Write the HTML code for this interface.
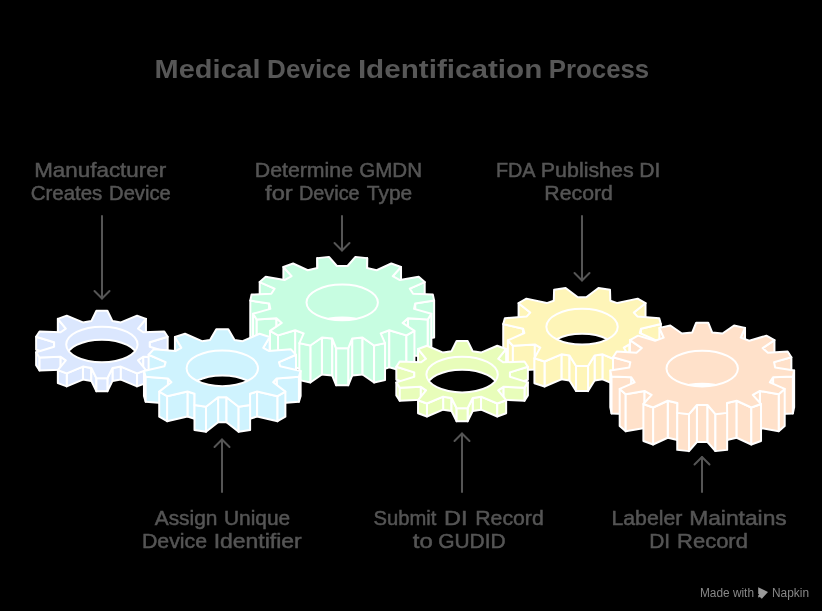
<!DOCTYPE html>
<html><head><meta charset="utf-8"><style>
html,body{margin:0;padding:0;background:#000;width:822px;height:611px;overflow:hidden;font-family:"Liberation Sans",sans-serif}
text{will-change:transform}
</style></head><body>
<svg width="822" height="611" viewBox="0 0 822 611" style="position:absolute;left:0;top:0">
<rect width="822" height="611" fill="#000"/>
<text x="207.6" y="78" text-anchor="middle" font-family="Liberation Sans" font-weight="bold" font-size="25" fill="#575757" textLength="106.1" lengthAdjust="spacingAndGlyphs">Medical</text>
<text x="309.1" y="78" text-anchor="middle" font-family="Liberation Sans" font-weight="bold" font-size="25" fill="#575757" textLength="84.0" lengthAdjust="spacingAndGlyphs">Device</text>
<text x="450.1" y="78" text-anchor="middle" font-family="Liberation Sans" font-weight="bold" font-size="25" fill="#575757" textLength="184.4" lengthAdjust="spacingAndGlyphs">Identification</text>
<text x="599.0" y="78" text-anchor="middle" font-family="Liberation Sans" font-weight="bold" font-size="25" fill="#575757" textLength="100.4" lengthAdjust="spacingAndGlyphs">Process</text>
<text x="100.2" y="176.5" text-anchor="middle" font-family="Liberation Sans" font-size="20.5" fill="#555555" stroke="#555" stroke-width="0.5" textLength="132.0" lengthAdjust="spacingAndGlyphs">Manufacturer</text>
<text x="66.5" y="200.3" text-anchor="middle" font-family="Liberation Sans" font-size="20.5" fill="#555555" stroke="#555" stroke-width="0.5" textLength="71.7" lengthAdjust="spacingAndGlyphs">Creates</text>
<text x="139.9" y="200.3" text-anchor="middle" font-family="Liberation Sans" font-size="20.5" fill="#555555" stroke="#555" stroke-width="0.5" textLength="61.6" lengthAdjust="spacingAndGlyphs">Device</text>
<text x="303.9" y="176.5" text-anchor="middle" font-family="Liberation Sans" font-size="20.5" fill="#555555" stroke="#555" stroke-width="0.5" textLength="98.3" lengthAdjust="spacingAndGlyphs">Determine</text>
<text x="390.6" y="176.5" text-anchor="middle" font-family="Liberation Sans" font-size="20.5" fill="#555555" stroke="#555" stroke-width="0.5" textLength="62.8" lengthAdjust="spacingAndGlyphs">GMDN</text>
<text x="278.9" y="200.3" text-anchor="middle" font-family="Liberation Sans" font-size="20.5" fill="#555555" stroke="#555" stroke-width="0.5" textLength="27.7" lengthAdjust="spacingAndGlyphs">for</text>
<text x="329.3" y="200.3" text-anchor="middle" font-family="Liberation Sans" font-size="20.5" fill="#555555" stroke="#555" stroke-width="0.5" textLength="60.7" lengthAdjust="spacingAndGlyphs">Device</text>
<text x="389.5" y="200.3" text-anchor="middle" font-family="Liberation Sans" font-size="20.5" fill="#555555" stroke="#555" stroke-width="0.5" textLength="45.3" lengthAdjust="spacingAndGlyphs">Type</text>
<text x="515.7" y="176.5" text-anchor="middle" font-family="Liberation Sans" font-size="20.5" fill="#555555" stroke="#555" stroke-width="0.5" textLength="39.6" lengthAdjust="spacingAndGlyphs">FDA</text>
<text x="587.2" y="176.5" text-anchor="middle" font-family="Liberation Sans" font-size="20.5" fill="#555555" stroke="#555" stroke-width="0.5" textLength="92.8" lengthAdjust="spacingAndGlyphs">Publishes</text>
<text x="649.7" y="176.5" text-anchor="middle" font-family="Liberation Sans" font-size="20.5" fill="#555555" stroke="#555" stroke-width="0.5" textLength="21.1" lengthAdjust="spacingAndGlyphs">DI</text>
<text x="578.6" y="200.3" text-anchor="middle" font-family="Liberation Sans" font-size="20.5" fill="#555555" stroke="#555" stroke-width="0.5" textLength="68.5" lengthAdjust="spacingAndGlyphs">Record</text>
<text x="186.1" y="524.6" text-anchor="middle" font-family="Liberation Sans" font-size="20.5" fill="#555555" stroke="#555" stroke-width="0.5" textLength="62.8" lengthAdjust="spacingAndGlyphs">Assign</text>
<text x="257.1" y="524.6" text-anchor="middle" font-family="Liberation Sans" font-size="20.5" fill="#555555" stroke="#555" stroke-width="0.5" textLength="66.2" lengthAdjust="spacingAndGlyphs">Unique</text>
<text x="174.5" y="548.3" text-anchor="middle" font-family="Liberation Sans" font-size="20.5" fill="#555555" stroke="#555" stroke-width="0.5" textLength="65.1" lengthAdjust="spacingAndGlyphs">Device</text>
<text x="257.7" y="548.3" text-anchor="middle" font-family="Liberation Sans" font-size="20.5" fill="#555555" stroke="#555" stroke-width="0.5" textLength="88.1" lengthAdjust="spacingAndGlyphs">Identifier</text>
<text x="404.9" y="524.6" text-anchor="middle" font-family="Liberation Sans" font-size="20.5" fill="#555555" stroke="#555" stroke-width="0.5" textLength="62.8" lengthAdjust="spacingAndGlyphs">Submit</text>
<text x="455.7" y="524.6" text-anchor="middle" font-family="Liberation Sans" font-size="20.5" fill="#555555" stroke="#555" stroke-width="0.5" textLength="23.5" lengthAdjust="spacingAndGlyphs">DI</text>
<text x="509.5" y="524.6" text-anchor="middle" font-family="Liberation Sans" font-size="20.5" fill="#555555" stroke="#555" stroke-width="0.5" textLength="68.5" lengthAdjust="spacingAndGlyphs">Record</text>
<text x="422.8" y="548.3" text-anchor="middle" font-family="Liberation Sans" font-size="20.5" fill="#555555" stroke="#555" stroke-width="0.5" textLength="20.0" lengthAdjust="spacingAndGlyphs">to</text>
<text x="471.9" y="548.3" text-anchor="middle" font-family="Liberation Sans" font-size="20.5" fill="#555555" stroke="#555" stroke-width="0.5" textLength="67.4" lengthAdjust="spacingAndGlyphs">GUDID</text>
<text x="646.9" y="524.6" text-anchor="middle" font-family="Liberation Sans" font-size="20.5" fill="#555555" stroke="#555" stroke-width="0.5" textLength="70.8" lengthAdjust="spacingAndGlyphs">Labeler</text>
<text x="738.0" y="524.6" text-anchor="middle" font-family="Liberation Sans" font-size="20.5" fill="#555555" stroke="#555" stroke-width="0.5" textLength="97.6" lengthAdjust="spacingAndGlyphs">Maintains</text>
<text x="659.6" y="548.3" text-anchor="middle" font-family="Liberation Sans" font-size="20.5" fill="#555555" stroke="#555" stroke-width="0.5" textLength="20.9" lengthAdjust="spacingAndGlyphs">DI</text>
<text x="712.5" y="548.3" text-anchor="middle" font-family="Liberation Sans" font-size="20.5" fill="#555555" stroke="#555" stroke-width="0.5" textLength="70.8" lengthAdjust="spacingAndGlyphs">Record</text>
<g stroke="#555555" stroke-width="2" stroke-linecap="round" stroke-linejoin="round">
<line x1="102" y1="216" x2="102" y2="298.5"/><polyline points="94.5,291.0 102,298.5 109.5,291.0" fill="none"/>
<line x1="342" y1="216" x2="342" y2="250.5"/><polyline points="334.5,243.0 342,250.5 349.5,243.0" fill="none"/>
<line x1="582" y1="216" x2="582" y2="280.5"/><polyline points="574.5,273.0 582,280.5 589.5,273.0" fill="none"/>
<line x1="222" y1="439.5" x2="222" y2="492"/><polyline points="214.5,447.0 222,439.5 229.5,447.0" fill="none"/>
<line x1="462" y1="433.5" x2="462" y2="492"/><polyline points="454.5,441.0 462,433.5 469.5,441.0" fill="none"/>
<line x1="702" y1="457" x2="702" y2="492"/><polyline points="694.5,464.5 702,457 709.5,464.5" fill="none"/>
</g>
<g fill="#c7fde1" stroke="#fff" stroke-width="2.00" stroke-linejoin="round">
<polygon points="317.24,258.12 317.43,268.07 317.43,305.07 317.24,295.12"/>
<polygon points="366.97,268.07 367.16,258.12 367.16,295.12 366.97,305.07"/>
<polygon points="283.38,267.03 291.64,276.07 291.64,313.07 283.38,304.03"/>
<polygon points="392.76,276.07 401.02,267.03 401.02,304.03 392.76,313.07"/>
<polygon points="259.70,282.05 274.59,288.63 274.59,325.63 259.70,319.05"/>
<polygon points="409.81,288.63 424.70,282.05 424.70,319.05 409.81,325.63"/>
<polygon points="415.16,303.57 434.13,300.59 434.13,337.59 415.16,340.57"/>
<polygon points="250.27,300.59 269.24,303.57 269.24,340.57 250.27,337.59"/>
<polygon points="414.05,308.84 415.16,303.57 415.16,340.57 414.05,345.84"/>
<polygon points="269.24,303.57 270.35,308.84 270.35,345.84 269.24,340.57"/>
<polygon points="253.03,313.73 256.74,319.44 256.74,356.44 253.03,350.73"/>
<polygon points="427.66,319.44 431.37,313.73 431.37,350.73 427.66,356.44"/>
<polygon points="256.74,319.44 276.50,318.31 276.50,355.31 256.74,356.44"/>
<polygon points="407.90,318.31 427.66,319.44 427.66,356.44 407.90,355.31"/>
<polygon points="276.50,318.31 281.80,322.90 281.80,359.90 276.50,355.31"/>
<polygon points="402.60,322.90 407.90,318.31 407.90,355.31 402.60,359.90"/>
<polygon points="295.12,330.29 303.69,333.41 303.69,370.41 295.12,367.29"/>
<polygon points="380.71,333.41 389.28,330.29 389.28,367.29 380.71,370.41"/>
<polygon points="277.99,335.34 295.12,330.29 295.12,367.29 277.99,372.34"/>
<polygon points="389.28,330.29 406.41,335.34 406.41,372.34 389.28,367.29"/>
<polygon points="269.96,330.89 277.99,335.34 277.99,372.34 269.96,367.89"/>
<polygon points="406.41,335.34 414.44,330.89 414.44,367.89 406.41,372.34"/>
<polygon points="352.15,338.56 362.52,337.46 362.52,374.46 352.15,375.56"/>
<polygon points="321.88,337.46 332.25,338.56 332.25,375.56 321.88,374.46"/>
<polygon points="362.52,337.46 374.06,345.55 374.06,382.55 362.52,374.46"/>
<polygon points="310.34,345.55 321.88,337.46 321.88,374.46 310.34,382.55"/>
<polygon points="332.25,338.56 336.20,348.30 336.20,385.30 332.25,375.56"/>
<polygon points="348.20,348.30 352.15,338.56 352.15,375.56 348.20,385.30"/>
<polygon points="299.38,343.11 310.34,345.55 310.34,382.55 299.38,380.11"/>
<polygon points="374.06,345.55 385.02,343.11 385.02,380.11 374.06,382.55"/>
<polygon points="336.20,348.30 348.20,348.30 348.20,385.30 336.20,385.30"/>
<polygon points="332.25,338.56 336.20,348.30 348.20,348.30 352.15,338.56 362.52,337.46 374.06,345.55 385.02,343.11 380.71,333.41 389.28,330.29 406.41,335.34 414.44,330.89 402.60,322.90 407.90,318.31 427.66,319.44 431.37,313.73 414.05,308.84 415.16,303.57 434.13,300.59 432.87,294.62 413.08,293.67 409.81,288.63 424.70,282.05 418.70,276.85 399.85,280.01 392.76,276.07 401.02,267.03 391.31,263.50 376.66,270.22 366.97,268.07 367.16,258.12 355.42,256.88 347.50,266.00 336.90,266.00 328.98,256.88 317.24,258.12 317.43,268.07 307.74,270.22 293.09,263.50 283.38,267.03 291.64,276.07 284.55,280.01 265.70,276.85 259.70,282.05 274.59,288.63 271.32,293.67 251.53,294.62 250.27,300.59 269.24,303.57 270.35,308.84 253.03,313.73 256.74,319.44 276.50,318.31 281.80,322.90 269.96,330.89 277.99,335.34 295.12,330.29 303.69,333.41 299.38,343.11 310.34,345.55 321.88,337.46"/>
<clipPath id="c342"><ellipse cx="342.20" cy="302.40" rx="35.70" ry="17.85"/></clipPath>
<ellipse cx="342.20" cy="335.40" rx="35.70" ry="17.85" fill="#fff" clip-path="url(#c342)"/>
<ellipse cx="342.20" cy="302.40" rx="35.70" ry="17.85" fill="none"/>
</g>
<g fill="#fef5b8" stroke="#fff" stroke-width="2.00" stroke-linejoin="round">
<polygon points="518.59,303.17 530.26,312.57 530.26,337.57 518.59,328.17"/>
<polygon points="633.84,312.57 645.51,303.17 645.51,328.17 633.84,337.57"/>
<polygon points="503.23,324.06 523.20,328.81 523.20,353.81 503.23,349.06"/>
<polygon points="640.90,328.81 660.87,324.06 660.87,349.06 640.90,353.81"/>
<polygon points="523.20,328.81 524.40,332.97 524.40,357.97 523.20,353.81"/>
<polygon points="639.70,332.97 640.90,328.81 640.90,353.81 639.70,357.97"/>
<polygon points="507.90,340.33 512.89,345.79 512.89,370.79 507.90,365.33"/>
<polygon points="651.21,345.79 656.20,340.33 656.20,365.33 651.21,370.79"/>
<polygon points="512.89,345.79 534.82,344.38 534.82,369.38 512.89,370.79"/>
<polygon points="629.28,344.38 651.21,345.79 651.21,370.79 629.28,369.38"/>
<polygon points="534.82,344.38 540.32,347.56 540.32,372.56 534.82,369.38"/>
<polygon points="623.78,347.56 629.28,344.38 629.28,369.38 623.78,372.56"/>
<polygon points="561.44,354.34 569.50,355.52 569.50,380.52 561.44,379.34"/>
<polygon points="594.60,355.52 602.66,354.34 602.66,379.34 594.60,380.52"/>
<polygon points="602.66,354.34 619.59,361.46 619.59,386.46 602.66,379.34"/>
<polygon points="544.51,361.46 561.44,354.34 561.44,379.34 544.51,386.46"/>
<polygon points="619.59,361.46 629.68,358.21 629.68,383.21 619.59,386.46"/>
<polygon points="534.42,358.21 544.51,361.46 544.51,386.46 534.42,383.21"/>
<polygon points="569.50,355.52 576.05,366.09 576.05,391.09 569.50,380.52"/>
<polygon points="588.05,366.09 594.60,355.52 594.60,380.52 588.05,391.09"/>
<polygon points="576.05,366.09 588.05,366.09 588.05,391.09 576.05,391.09"/>
<polygon points="569.50,355.52 576.05,366.09 588.05,366.09 594.60,355.52 602.66,354.34 619.59,361.46 629.68,358.21 623.78,347.56 629.28,344.38 651.21,345.79 656.20,340.33 639.70,332.97 640.90,328.81 660.87,324.06 659.17,318.13 637.33,316.39 633.84,312.57 645.51,303.17 637.65,298.64 617.40,303.08 610.33,300.81 610.00,289.75 598.49,288.06 586.25,297.27 577.85,297.27 565.61,288.06 554.10,289.75 553.77,300.81 546.70,303.08 526.45,298.64 518.59,303.17 530.26,312.57 526.77,316.39 504.93,318.13 503.23,324.06 523.20,328.81 524.40,332.97 507.90,340.33 512.89,345.79 534.82,344.38 540.32,347.56 534.42,358.21 544.51,361.46 561.44,354.34"/>
<clipPath id="c582"><ellipse cx="582.05" cy="326.70" rx="35.70" ry="17.85"/></clipPath>
<ellipse cx="582.05" cy="351.70" rx="35.70" ry="17.85" fill="#000" clip-path="url(#c582)"/>
<ellipse cx="582.05" cy="326.70" rx="35.70" ry="17.85" fill="none"/>
</g>
<g fill="#dbe7fe" stroke="#fff" stroke-width="2.00" stroke-linejoin="round">
<polygon points="57.85,318.86 65.82,328.67 65.82,341.67 57.85,331.86"/>
<polygon points="137.98,328.67 145.95,318.86 145.95,331.86 137.98,341.67"/>
<polygon points="149.70,342.30 167.68,336.71 167.68,349.71 149.70,355.30"/>
<polygon points="36.12,336.71 54.10,342.30 54.10,355.30 36.12,349.71"/>
<polygon points="36.12,352.29 39.52,357.53 39.52,370.53 36.12,365.29"/>
<polygon points="164.28,357.53 167.68,352.29 167.68,365.29 164.28,370.53"/>
<polygon points="143.16,356.77 164.28,357.53 164.28,370.53 143.16,369.77"/>
<polygon points="39.52,357.53 60.64,356.77 60.64,369.77 39.52,370.53"/>
<polygon points="137.98,360.33 143.16,356.77 143.16,369.77 137.98,373.33"/>
<polygon points="60.64,356.77 65.82,360.33 65.82,373.33 60.64,369.77"/>
<polygon points="112.49,367.91 120.86,366.55 120.86,379.55 112.49,380.91"/>
<polygon points="82.94,366.55 91.31,367.91 91.31,380.91 82.94,379.55"/>
<polygon points="120.86,366.55 137.05,373.37 137.05,386.37 120.86,379.55"/>
<polygon points="66.75,373.37 82.94,366.55 82.94,379.55 66.75,386.37"/>
<polygon points="57.85,370.14 66.75,373.37 66.75,386.37 57.85,383.14"/>
<polygon points="137.05,373.37 145.95,370.14 145.95,383.14 137.05,386.37"/>
<polygon points="91.31,367.91 96.40,378.19 96.40,391.19 91.31,380.91"/>
<polygon points="107.40,378.19 112.49,367.91 112.49,380.91 107.40,391.19"/>
<polygon points="96.40,378.19 107.40,378.19 107.40,391.19 96.40,391.19"/>
<polygon points="112.49,321.09 107.40,310.81 96.40,310.81 91.31,321.09 82.94,322.45 66.75,315.63 57.85,318.86 65.82,328.67 60.64,332.23 39.52,331.47 36.12,336.71 54.10,342.30 54.10,346.70 36.12,352.29 39.52,357.53 60.64,356.77 65.82,360.33 57.85,370.14 66.75,373.37 82.94,366.55 91.31,367.91 96.40,378.19 107.40,378.19 112.49,367.91 120.86,366.55 137.05,373.37 145.95,370.14 137.98,360.33 143.16,356.77 164.28,357.53 167.68,352.29 149.70,346.70 149.70,342.30 167.68,336.71 164.28,331.47 143.16,332.23 137.98,328.67 145.95,318.86 137.05,315.63 120.86,322.45"/>
<clipPath id="c101"><ellipse cx="101.90" cy="344.50" rx="35.70" ry="17.85"/></clipPath>
<ellipse cx="101.90" cy="357.50" rx="35.70" ry="17.85" fill="#000" clip-path="url(#c101)"/>
<ellipse cx="101.90" cy="344.50" rx="35.70" ry="17.85" fill="none"/>
</g>
<g fill="#cff3fe" stroke="#fff" stroke-width="2.00" stroke-linejoin="round">
<polygon points="174.94,337.00 181.33,347.77 181.33,372.77 174.94,362.00"/>
<polygon points="263.27,347.77 269.66,337.00 269.66,362.00 263.27,372.77"/>
<polygon points="148.61,354.77 165.64,362.11 165.64,387.11 148.61,379.77"/>
<polygon points="278.96,362.11 295.99,354.77 295.99,379.77 278.96,387.11"/>
<polygon points="143.97,370.90 145.68,376.84 145.68,401.84 143.97,395.90"/>
<polygon points="298.92,376.84 300.63,370.90 300.63,395.90 298.92,401.84"/>
<polygon points="145.68,376.84 167.94,378.41 167.94,403.41 145.68,401.84"/>
<polygon points="276.66,378.41 298.92,376.84 298.92,401.84 276.66,403.41"/>
<polygon points="167.94,378.41 171.42,382.23 171.42,407.23 167.94,403.41"/>
<polygon points="273.18,382.23 276.66,378.41 276.66,403.41 273.18,407.23"/>
<polygon points="187.49,391.50 194.56,393.77 194.56,418.77 187.49,416.50"/>
<polygon points="250.04,393.77 257.11,391.50 257.11,416.50 250.04,418.77"/>
<polygon points="167.08,396.20 187.49,391.50 187.49,416.50 167.08,421.20"/>
<polygon points="257.11,391.50 277.52,396.20 277.52,421.20 257.11,416.50"/>
<polygon points="277.52,396.20 285.38,391.66 285.38,416.66 277.52,421.20"/>
<polygon points="159.22,391.66 167.08,396.20 167.08,421.20 159.22,416.66"/>
<polygon points="218.10,397.22 226.50,397.22 226.50,422.22 218.10,422.22"/>
<polygon points="206.01,406.70 218.10,397.22 218.10,422.22 206.01,431.70"/>
<polygon points="226.50,397.22 238.59,406.70 238.59,431.70 226.50,422.22"/>
<polygon points="194.49,405.00 206.01,406.70 206.01,431.70 194.49,430.00"/>
<polygon points="238.59,406.70 250.11,405.00 250.11,430.00 238.59,431.70"/>
<polygon points="234.57,339.96 228.30,329.16 216.30,329.16 210.03,339.96 201.97,341.14 185.03,333.76 174.94,337.00 181.33,347.77 175.83,350.95 153.60,349.31 148.61,354.77 165.64,362.11 164.44,366.26 143.97,370.90 145.68,376.84 167.94,378.41 171.42,382.23 159.22,391.66 167.08,396.20 187.49,391.50 194.56,393.77 194.49,405.00 206.01,406.70 218.10,397.22 226.50,397.22 238.59,406.70 250.11,405.00 250.04,393.77 257.11,391.50 277.52,396.20 285.38,391.66 273.18,382.23 276.66,378.41 298.92,376.84 300.63,370.90 280.16,366.26 278.96,362.11 295.99,354.77 291.00,349.31 268.77,350.95 263.27,347.77 269.66,337.00 259.57,333.76 242.63,341.14"/>
<clipPath id="c222"><ellipse cx="222.30" cy="368.30" rx="35.70" ry="17.85"/></clipPath>
<ellipse cx="222.30" cy="393.30" rx="35.70" ry="17.85" fill="#000" clip-path="url(#c222)"/>
<ellipse cx="222.30" cy="368.30" rx="35.70" ry="17.85" fill="none"/>
</g>
<g fill="#ffe1ca" stroke="#fff" stroke-width="2.00" stroke-linejoin="round">
<polygon points="659.38,327.89 663.69,337.59 663.69,374.59 659.38,364.89"/>
<polygon points="740.71,337.59 745.02,327.89 745.02,364.89 740.71,374.59"/>
<polygon points="762.60,348.10 774.44,340.11 774.44,377.11 762.60,385.10"/>
<polygon points="629.96,340.11 641.80,348.10 641.80,385.10 629.96,377.11"/>
<polygon points="774.05,362.16 791.37,357.27 791.37,394.27 774.05,399.16"/>
<polygon points="613.03,357.27 630.35,362.16 630.35,399.16 613.03,394.27"/>
<polygon points="610.27,370.41 611.53,376.38 611.53,413.38 610.27,407.41"/>
<polygon points="792.87,376.38 794.13,370.41 794.13,407.41 792.87,413.38"/>
<polygon points="773.08,377.33 792.87,376.38 792.87,413.38 773.08,414.33"/>
<polygon points="611.53,376.38 631.32,377.33 631.32,414.33 611.53,413.38"/>
<polygon points="631.32,377.33 634.59,382.37 634.59,419.37 631.32,414.33"/>
<polygon points="769.81,382.37 773.08,377.33 773.08,414.33 769.81,419.37"/>
<polygon points="619.70,388.95 625.70,394.15 625.70,431.15 619.70,425.95"/>
<polygon points="778.70,394.15 784.70,388.95 784.70,425.95 778.70,431.15"/>
<polygon points="759.85,390.99 778.70,394.15 778.70,431.15 759.85,427.99"/>
<polygon points="625.70,394.15 644.55,390.99 644.55,427.99 625.70,431.15"/>
<polygon points="752.76,394.93 759.85,390.99 759.85,427.99 752.76,431.93"/>
<polygon points="644.55,390.99 651.64,394.93 651.64,431.93 644.55,427.99"/>
<polygon points="667.74,400.78 677.43,402.93 677.43,439.93 667.74,437.78"/>
<polygon points="726.97,402.93 736.66,400.78 736.66,437.78 726.97,439.93"/>
<polygon points="736.66,400.78 751.31,407.50 751.31,444.50 736.66,437.78"/>
<polygon points="653.09,407.50 667.74,400.78 667.74,437.78 653.09,444.50"/>
<polygon points="696.90,405.00 707.50,405.00 707.50,442.00 696.90,442.00"/>
<polygon points="643.38,403.97 653.09,407.50 653.09,444.50 643.38,440.97"/>
<polygon points="751.31,407.50 761.02,403.97 761.02,440.97 751.31,444.50"/>
<polygon points="688.98,414.12 696.90,405.00 696.90,442.00 688.98,451.12"/>
<polygon points="707.50,405.00 715.42,414.12 715.42,451.12 707.50,442.00"/>
<polygon points="677.24,412.88 688.98,414.12 688.98,451.12 677.24,449.88"/>
<polygon points="715.42,414.12 727.16,412.88 727.16,449.88 715.42,451.12"/>
<polygon points="712.15,332.44 708.20,322.70 696.20,322.70 692.25,332.44 681.88,333.54 670.34,325.45 659.38,327.89 663.69,337.59 655.12,340.71 637.99,335.66 629.96,340.11 641.80,348.10 636.50,352.69 616.74,351.56 613.03,357.27 630.35,362.16 629.24,367.43 610.27,370.41 611.53,376.38 631.32,377.33 634.59,382.37 619.70,388.95 625.70,394.15 644.55,390.99 651.64,394.93 643.38,403.97 653.09,407.50 667.74,400.78 677.43,402.93 677.24,412.88 688.98,414.12 696.90,405.00 707.50,405.00 715.42,414.12 727.16,412.88 726.97,402.93 736.66,400.78 751.31,407.50 761.02,403.97 752.76,394.93 759.85,390.99 778.70,394.15 784.70,388.95 769.81,382.37 773.08,377.33 792.87,376.38 794.13,370.41 775.16,367.43 774.05,362.16 791.37,357.27 787.66,351.56 767.90,352.69 762.60,348.10 774.44,340.11 766.41,335.66 749.28,340.71 740.71,337.59 745.02,327.89 734.06,325.45 722.52,333.54"/>
<clipPath id="c702"><ellipse cx="702.20" cy="368.60" rx="35.70" ry="17.85"/></clipPath>
<ellipse cx="702.20" cy="401.60" rx="35.70" ry="17.85" fill="#fff" clip-path="url(#c702)"/>
<ellipse cx="702.20" cy="368.60" rx="35.70" ry="17.85" fill="none"/>
</g>
<g fill="#e8fdba" stroke="#fff" stroke-width="2.00" stroke-linejoin="round">
<polygon points="418.05,348.96 426.02,358.77 426.02,371.77 418.05,361.96"/>
<polygon points="498.18,358.77 506.15,348.96 506.15,361.96 498.18,371.77"/>
<polygon points="509.90,372.40 527.88,366.81 527.88,379.81 509.90,385.40"/>
<polygon points="396.32,366.81 414.30,372.40 414.30,385.40 396.32,379.81"/>
<polygon points="396.32,382.39 399.72,387.63 399.72,400.63 396.32,395.39"/>
<polygon points="524.48,387.63 527.88,382.39 527.88,395.39 524.48,400.63"/>
<polygon points="503.36,386.87 524.48,387.63 524.48,400.63 503.36,399.87"/>
<polygon points="399.72,387.63 420.84,386.87 420.84,399.87 399.72,400.63"/>
<polygon points="498.18,390.43 503.36,386.87 503.36,399.87 498.18,403.43"/>
<polygon points="420.84,386.87 426.02,390.43 426.02,403.43 420.84,399.87"/>
<polygon points="472.69,398.01 481.06,396.65 481.06,409.65 472.69,411.01"/>
<polygon points="443.14,396.65 451.51,398.01 451.51,411.01 443.14,409.65"/>
<polygon points="481.06,396.65 497.25,403.47 497.25,416.47 481.06,409.65"/>
<polygon points="426.95,403.47 443.14,396.65 443.14,409.65 426.95,416.47"/>
<polygon points="418.05,400.24 426.95,403.47 426.95,416.47 418.05,413.24"/>
<polygon points="497.25,403.47 506.15,400.24 506.15,413.24 497.25,416.47"/>
<polygon points="451.51,398.01 456.60,408.29 456.60,421.29 451.51,411.01"/>
<polygon points="467.60,408.29 472.69,398.01 472.69,411.01 467.60,421.29"/>
<polygon points="456.60,408.29 467.60,408.29 467.60,421.29 456.60,421.29"/>
<polygon points="472.69,351.19 467.60,340.91 456.60,340.91 451.51,351.19 443.14,352.55 426.95,345.73 418.05,348.96 426.02,358.77 420.84,362.33 399.72,361.57 396.32,366.81 414.30,372.40 414.30,376.80 396.32,382.39 399.72,387.63 420.84,386.87 426.02,390.43 418.05,400.24 426.95,403.47 443.14,396.65 451.51,398.01 456.60,408.29 467.60,408.29 472.69,398.01 481.06,396.65 497.25,403.47 506.15,400.24 498.18,390.43 503.36,386.87 524.48,387.63 527.88,382.39 509.90,376.80 509.90,372.40 527.88,366.81 524.48,361.57 503.36,362.33 498.18,358.77 506.15,348.96 497.25,345.73 481.06,352.55"/>
<clipPath id="c462"><ellipse cx="462.10" cy="374.60" rx="35.70" ry="17.85"/></clipPath>
<ellipse cx="462.10" cy="387.60" rx="35.70" ry="17.85" fill="#000" clip-path="url(#c462)"/>
<ellipse cx="462.10" cy="374.60" rx="35.70" ry="17.85" fill="none"/>
</g>
<text x="700" y="596.7" font-family="Liberation Sans" font-size="12.5" fill="#888" textLength="54" lengthAdjust="spacingAndGlyphs">Made with</text>
<path d="M758.2,587.2 L768,592 L761.8,598.8 L759.9,597 L758.2,597.6 L758.2,595.2 L759.3,594.5 L758.2,593.8 Z" fill="#999"/>
<text x="772" y="596.7" font-family="Liberation Sans" font-size="12.5" fill="#888" textLength="37" lengthAdjust="spacingAndGlyphs">Napkin</text>
</svg>
</body></html>
